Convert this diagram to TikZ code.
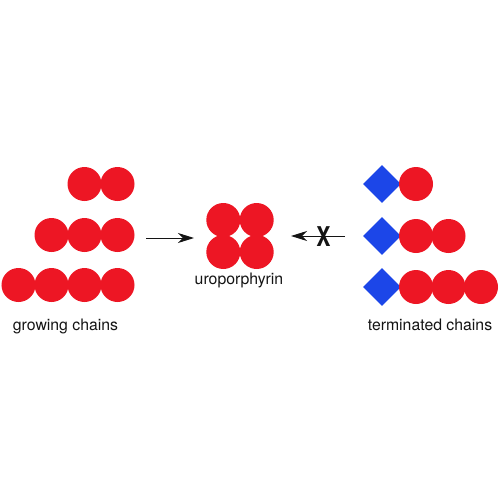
\documentclass[tikz,border=0pt]{standalone}
\usepackage{fontspec}
\setmainfont{TeX Gyre Heros}
\usetikzlibrary{arrows.meta,shapes.geometric}
\definecolor{beadred}{RGB}{237,22,36}
\definecolor{capblue}{RGB}{28,70,232}
\definecolor{ink}{RGB}{20,20,20}
\tikzset{
  >={Stealth[length=3.2mm,width=2mm,inset=1mm]},
  bead/.style={circle,fill=beadred,minimum size=6.8mm,inner sep=0pt},
  stopper/.style={diamond,fill=capblue,minimum size=7.6mm,inner sep=0pt},
  flow/.style={->,draw=ink,line width=0.55pt},
  tag/.style={font=\fontsize{9}{11}\selectfont,text=ink,anchor=base,inner sep=0pt},
}

\begin{document}
\begin{tikzpicture}[x=0.2mm,y=-0.2mm]
    \useasboundingbox (0,0) rectangle (500,500);
    % growing chains
    \foreach \n/\y in {2/184,3/235,4/285}{
      \foreach \k in {1,...,\n}
        \node[bead] (g\n-\k) at ({117.5-33*(\n-\k)},\y) {};
    }
    \node[tag] (glabel) at (65.5,330) {growing chains};
    % uroporphyrin
    \foreach \dx/\dy [count=\i] in {-1/-1,1/-1,-1/1,1/1}
      \node[bead] (u\i) at ({240+16.7*\dx},{236+16*\dy}) {};
    \node[tag] (ulabel) at (239,284) {uroporphyrin};
    % terminated chains
    \foreach \n/\y in {1/184,2/236,3/287}{
      \node[stopper] (t\n-0) at (382,\y) {};
      \foreach \k in {1,...,\n}
        \node[bead] (t\n-\k) at ({416+32.5*(\k-1)},\y) {};
    }
    \node[tag] (tlabel) at (430,330) {terminated chains};
    % arrows
    \coordinate (ga) at (146,238);
    \coordinate (gb) at (194,238);
    \coordinate (ta) at (345,236);
    \coordinate (tb) at (291,236);
    \draw[flow] (ga) -- (gb);
    \draw[flow] (ta) -- (tb);
    \node[font=\fontsize{15.5}{15.5}\selectfont\bfseries,text=ink,inner sep=0pt] (block) at (323.5,237) {\scalebox{0.78}[1]{X}};
\end{tikzpicture}
\end{document}
